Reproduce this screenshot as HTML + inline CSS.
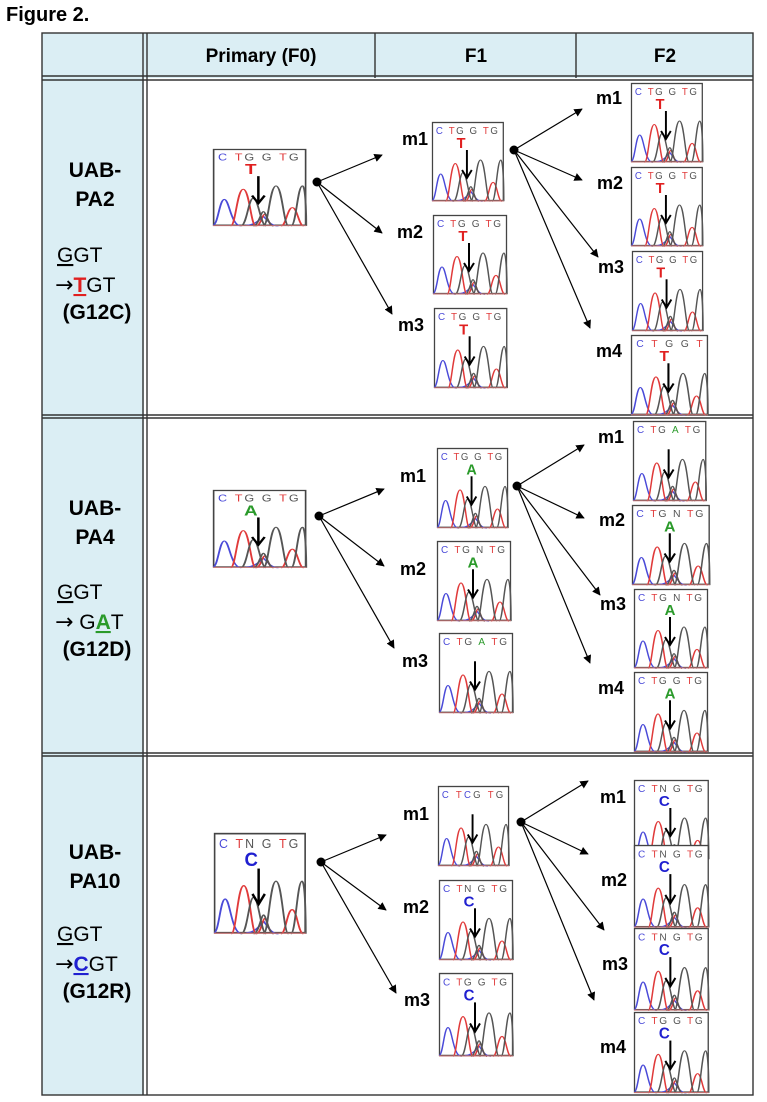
<!DOCTYPE html>
<html><head><meta charset="utf-8"><style>
html,body{margin:0;padding:0;background:#fff;}
svg{display:block;font-family:"Liberation Sans",Arial,sans-serif;}
.sq{font-size:10px;}
.mt{font-size:15px;font-weight:bold;text-anchor:middle;}
.ml{font-size:18px;font-weight:bold;}
.lt{font-size:21px;font-weight:bold;text-anchor:middle;}
.lr{font-size:21px;}
.ar{font-family:"DejaVu Sans",sans-serif;font-size:22px;}
.hd{font-size:19px;font-weight:bold;text-anchor:middle;}
</style></head><body>
<svg width="767" height="1102" viewBox="0 0 767 1102">
<defs>
<marker id="ah" viewBox="0 0 10 10" refX="9" refY="5" markerWidth="7" markerHeight="7" orient="auto-start-reverse"><path d="M0,0 L10,5 L0,10 z" fill="#000"/></marker>
<g id="pk" fill="none" stroke-width="1.5" transform="translate(0,24) scale(1,0.7)">
<path stroke="#4a4ad8" d="M0,78 C4,78 5,40 9,40 C13,40 14,78 22,79 M26,78 C32,78 36,72 40,65 C44,72 46,79 52,79"/>
<path stroke="#e03a3a" d="M14,79 C18,79 19,25 24,25 C29,25 30,79 34,79 M34,79 C38,79 39,62 41,62 C43,62 44,79 48,79 M54,79 C58,79 59,52 63,52 C67,52 68,79 72,79"/>
<path stroke="#555" d="M22,79 C27,79 28,38 32,38 C36,38 38,79 42,79 M32,79 C36,79 38,58 40,58 C42,58 44,79 48,79 M40,79 C44,79 45,20 50,20 C55,20 56,79 60,79 M62,79 C66,79 67,20 71,20 C74,20 74,79 74,79"/>
<path stroke="#c07070" d="M0,78.5 L74,78.5"/>
</g>
<g id="ch">
<rect x="0.5" y="0.5" width="73" height="78" fill="#fff" stroke="#444" stroke-width="1.3"/>
<use href="#pk"/>
<line x1="36" y1="28" x2="36" y2="55" stroke="#000" stroke-width="2"/>
<path d="M31,48 L36,56 L41,48" fill="none" stroke="#000" stroke-width="2"/>
</g>
</defs>

<text x="6" y="21" style="font-size:20px;font-weight:bold">Figure 2.</text>

<rect x="42" y="33" width="711" height="45" fill="#dbeef4"/>
<rect x="42" y="78" width="102" height="1017" fill="#dbeef4"/>
<g stroke="#333" stroke-width="1.4" fill="none">
<rect x="42" y="33" width="711" height="1062"/>
<line x1="143" y1="33" x2="143" y2="1095"/>
<line x1="147" y1="33" x2="147" y2="1095"/>
<line x1="42" y1="76" x2="753" y2="76"/>
<line x1="42" y1="80" x2="753" y2="80"/>
<line x1="375" y1="33" x2="375" y2="78"/>
<line x1="576" y1="33" x2="576" y2="78"/>
<line x1="42" y1="415" x2="753" y2="415"/>
<line x1="42" y1="418" x2="753" y2="418"/>
<line x1="42" y1="753" x2="753" y2="753"/>
<line x1="42" y1="756" x2="753" y2="756"/>
</g>
<text class="hd" x="261" y="62">Primary (F0)</text>
<text class="hd" x="476" y="62">F1</text>
<text class="hd" x="665" y="62">F2</text>

<text class="lt" x="95" y="177">UAB-</text>
<text class="lt" x="95" y="206">PA2</text>
<text class="lr" x="57" y="262"><tspan text-decoration="underline">G</tspan>GT</text>
<text class="lr" x="55" y="292"><tspan class="ar">→</tspan><tspan fill="#e02020" font-weight="bold" text-decoration="underline">T</tspan>GT</text>
<text class="lt" x="97" y="319">(G12C)</text>

<text class="lt" x="95" y="515">UAB-</text>
<text class="lt" x="95" y="544">PA4</text>
<text class="lr" x="57" y="599"><tspan text-decoration="underline">G</tspan>GT</text>
<text class="lr" x="55" y="629"><tspan class="ar">→</tspan> G<tspan fill="#2a9a2a" font-weight="bold" text-decoration="underline">A</tspan>T</text>
<text class="lt" x="97" y="656">(G12D)</text>

<text class="lt" x="95" y="859">UAB-</text>
<text class="lt" x="95" y="888">PA10</text>
<text class="lr" x="57" y="941"><tspan text-decoration="underline">G</tspan>GT</text>
<text class="lr" x="55" y="971"><tspan class="ar">→</tspan><tspan fill="#2020d0" font-weight="bold" text-decoration="underline">C</tspan>GT</text>
<text class="lt" x="97" y="998">(G12R)</text>

<g stroke="#000" stroke-width="1.2" marker-end="url(#ah)">
<line x1="317" y1="182" x2="382" y2="155"/>
<line x1="317" y1="182" x2="382" y2="233"/>
<line x1="317" y1="182" x2="392" y2="314"/>
<line x1="514" y1="150" x2="582" y2="109"/>
<line x1="514" y1="150" x2="582" y2="180"/>
<line x1="514" y1="150" x2="598" y2="257"/>
<line x1="514" y1="150" x2="590" y2="328"/>
<line x1="319" y1="516" x2="384" y2="489"/>
<line x1="319" y1="516" x2="384" y2="566"/>
<line x1="319" y1="516" x2="394" y2="648"/>
<line x1="517" y1="486" x2="584" y2="445"/>
<line x1="517" y1="486" x2="584" y2="518"/>
<line x1="517" y1="486" x2="600" y2="595"/>
<line x1="517" y1="486" x2="590" y2="663"/>
<line x1="321" y1="862" x2="386" y2="835"/>
<line x1="321" y1="862" x2="386" y2="910"/>
<line x1="321" y1="862" x2="396" y2="993"/>
<line x1="521" y1="822" x2="588" y2="781"/>
<line x1="521" y1="822" x2="588" y2="854"/>
<line x1="521" y1="822" x2="604" y2="930"/>
<line x1="521" y1="822" x2="594" y2="1000"/>
</g>
<g fill="#000">
<circle cx="317" cy="182" r="4.5"/><circle cx="514" cy="150" r="4.5"/>
<circle cx="319" cy="516" r="4.5"/><circle cx="517" cy="486" r="4.5"/>
<circle cx="321" cy="862" r="4.5"/><circle cx="521" cy="822" r="4.5"/>
</g>

<text class="ml" x="402" y="145">m1</text>
<text class="ml" x="397" y="238">m2</text>
<text class="ml" x="398" y="331">m3</text>
<text class="ml" x="596" y="104">m1</text>
<text class="ml" x="597" y="189">m2</text>
<text class="ml" x="598" y="273">m3</text>
<text class="ml" x="596" y="357">m4</text>
<text class="ml" x="400" y="482">m1</text>
<text class="ml" x="400" y="575">m2</text>
<text class="ml" x="402" y="667">m3</text>
<text class="ml" x="598" y="443">m1</text>
<text class="ml" x="599" y="526">m2</text>
<text class="ml" x="600" y="610">m3</text>
<text class="ml" x="598" y="694">m4</text>
<text class="ml" x="403" y="820">m1</text>
<text class="ml" x="403" y="913">m2</text>
<text class="ml" x="404" y="1006">m3</text>
<text class="ml" x="600" y="803">m1</text>
<text class="ml" x="601" y="886">m2</text>
<text class="ml" x="602" y="970">m3</text>
<text class="ml" x="600" y="1053">m4</text>

<!-- Row 1 -->
<g transform="translate(213,149) scale(1.26,0.97)"><use href="#ch"/><text class="sq" x="4" y="12" textLength="64" lengthAdjust="spacing"><tspan fill="#4a4ad8">C</tspan> <tspan fill="#e03a3a">T</tspan><tspan fill="#555">G G</tspan> <tspan fill="#e03a3a">T</tspan><tspan fill="#555">G</tspan></text><text class="mt" x="30" y="26" fill="#e02020">T</text></g>
<g transform="translate(432,122) scale(0.97,1)"><use href="#ch"/><text class="sq" x="4" y="12" textLength="64" lengthAdjust="spacing"><tspan fill="#4a4ad8">C</tspan> <tspan fill="#e03a3a">T</tspan><tspan fill="#555">G G</tspan> <tspan fill="#e03a3a">T</tspan><tspan fill="#555">G</tspan></text><text class="mt" x="30" y="26" fill="#e02020">T</text></g>
<g transform="translate(433,215)"><use href="#ch"/><text class="sq" x="4" y="12" textLength="64" lengthAdjust="spacing"><tspan fill="#4a4ad8">C</tspan> <tspan fill="#e03a3a">T</tspan><tspan fill="#555">G G</tspan> <tspan fill="#e03a3a">T</tspan><tspan fill="#555">G</tspan></text><text class="mt" x="30" y="26" fill="#e02020">T</text></g>
<g transform="translate(434,308) scale(0.99,1.01)"><use href="#ch"/><text class="sq" x="4" y="12" textLength="64" lengthAdjust="spacing"><tspan fill="#4a4ad8">C</tspan> <tspan fill="#e03a3a">T</tspan><tspan fill="#555">G G</tspan> <tspan fill="#e03a3a">T</tspan><tspan fill="#555">G</tspan></text><text class="mt" x="30" y="26" fill="#e02020">T</text></g>
<g transform="translate(631,83) scale(0.97,1)"><use href="#ch"/><text class="sq" x="4" y="12" textLength="64" lengthAdjust="spacing"><tspan fill="#4a4ad8">C</tspan> <tspan fill="#e03a3a">T</tspan><tspan fill="#555">G G</tspan> <tspan fill="#e03a3a">T</tspan><tspan fill="#555">G</tspan></text><text class="mt" x="30" y="26" fill="#e02020">T</text></g>
<g transform="translate(631,167) scale(0.97,1)"><use href="#ch"/><text class="sq" x="4" y="12" textLength="64" lengthAdjust="spacing"><tspan fill="#4a4ad8">C</tspan> <tspan fill="#e03a3a">T</tspan><tspan fill="#555">G G</tspan> <tspan fill="#e03a3a">T</tspan><tspan fill="#555">G</tspan></text><text class="mt" x="30" y="26" fill="#e02020">T</text></g>
<g transform="translate(632,251) scale(0.96,1.01)"><use href="#ch"/><text class="sq" x="4" y="12" textLength="64" lengthAdjust="spacing"><tspan fill="#4a4ad8">C</tspan> <tspan fill="#e03a3a">T</tspan><tspan fill="#555">G G</tspan> <tspan fill="#e03a3a">T</tspan><tspan fill="#555">G</tspan></text><text class="mt" x="30" y="26" fill="#e02020">T</text></g>
<g transform="translate(631,335) scale(1.04,1.01)"><use href="#ch"/><text class="sq" x="5" y="12" textLength="64" lengthAdjust="spacing"><tspan fill="#4a4ad8">C</tspan>  <tspan fill="#e03a3a">T</tspan> <tspan fill="#555">G</tspan> <tspan fill="#555">G</tspan>  <tspan fill="#e03a3a">T</tspan></text><text class="mt" x="32" y="26" fill="#e02020">T</text></g>

<!-- Row 2 -->
<g transform="translate(213,490) scale(1.26,0.98)"><use href="#ch"/><text class="sq" x="4" y="12" textLength="64" lengthAdjust="spacing"><tspan fill="#4a4ad8">C</tspan> <tspan fill="#e03a3a">T</tspan><tspan fill="#555">G G</tspan> <tspan fill="#e03a3a">T</tspan><tspan fill="#555">G</tspan></text><text class="mt" x="30" y="26" fill="#2a9a2a">A</text></g>
<g transform="translate(437,448) scale(0.96,1.01)"><use href="#ch"/><text class="sq" x="4" y="12" textLength="64" lengthAdjust="spacing"><tspan fill="#4a4ad8">C</tspan> <tspan fill="#e03a3a">T</tspan><tspan fill="#555">G G</tspan> <tspan fill="#e03a3a">T</tspan><tspan fill="#555">G</tspan></text><text class="mt" x="36" y="26" fill="#2a9a2a">A</text></g>
<g transform="translate(437,541) scale(1,1.01)"><use href="#ch"/><text class="sq" x="4" y="12" textLength="64" lengthAdjust="spacing"><tspan fill="#4a4ad8">C</tspan> <tspan fill="#e03a3a">T</tspan><tspan fill="#555">G N</tspan> <tspan fill="#e03a3a">T</tspan><tspan fill="#555">G</tspan></text><text class="mt" x="36" y="26" fill="#2a9a2a">A</text></g>
<g transform="translate(439,633) scale(1,1.01)"><use href="#ch"/><text class="sq" x="4" y="12" textLength="64" lengthAdjust="spacing"><tspan fill="#4a4ad8">C</tspan> <tspan fill="#e03a3a">T</tspan><tspan fill="#555">G</tspan> <tspan fill="#2a9a2a">A</tspan> <tspan fill="#e03a3a">T</tspan><tspan fill="#555">G</tspan></text></g>
<g transform="translate(633,421) scale(0.99,1.01)"><use href="#ch"/><text class="sq" x="4" y="12" textLength="64" lengthAdjust="spacing"><tspan fill="#4a4ad8">C</tspan> <tspan fill="#e03a3a">T</tspan><tspan fill="#555">G</tspan> <tspan fill="#2a9a2a">A</tspan> <tspan fill="#e03a3a">T</tspan><tspan fill="#555">G</tspan></text></g>
<g transform="translate(632,505) scale(1.05,1.01)"><use href="#ch"/><text class="sq" x="4" y="12" textLength="64" lengthAdjust="spacing"><tspan fill="#4a4ad8">C</tspan> <tspan fill="#e03a3a">T</tspan><tspan fill="#555">G N</tspan> <tspan fill="#e03a3a">T</tspan><tspan fill="#555">G</tspan></text><text class="mt" x="36" y="26" fill="#2a9a2a">A</text></g>
<g transform="translate(634,589)"><use href="#ch"/><text class="sq" x="4" y="12" textLength="64" lengthAdjust="spacing"><tspan fill="#4a4ad8">C</tspan> <tspan fill="#e03a3a">T</tspan><tspan fill="#555">G N</tspan> <tspan fill="#e03a3a">T</tspan><tspan fill="#555">G</tspan></text><text class="mt" x="36" y="26" fill="#2a9a2a">A</text></g>
<g transform="translate(634,672) scale(1,1.01)"><use href="#ch"/><text class="sq" x="4" y="12" textLength="64" lengthAdjust="spacing"><tspan fill="#4a4ad8">C</tspan> <tspan fill="#e03a3a">T</tspan><tspan fill="#555">G G</tspan> <tspan fill="#e03a3a">T</tspan><tspan fill="#555">G</tspan></text><text class="mt" x="36" y="26" fill="#2a9a2a">A</text></g>

<!-- Row 3 -->
<g transform="translate(214,833) scale(1.24,1.27)"><use href="#ch"/><text class="sq" x="4" y="12" textLength="64" lengthAdjust="spacing"><tspan fill="#4a4ad8">C</tspan> <tspan fill="#e03a3a">T</tspan><tspan fill="#555">N G</tspan> <tspan fill="#e03a3a">T</tspan><tspan fill="#555">G</tspan></text><text class="mt" x="30" y="26" fill="#2020d0">C</text></g>
<g transform="translate(438,786) scale(0.96,1.01)"><use href="#ch"/><text class="sq" x="4" y="12" textLength="64" lengthAdjust="spacing"><tspan fill="#4a4ad8">C</tspan> <tspan fill="#e03a3a">T</tspan><tspan fill="#4a4ad8">C</tspan><tspan fill="#555">G</tspan> <tspan fill="#e03a3a">T</tspan><tspan fill="#555">G</tspan></text></g>
<g transform="translate(439,880) scale(1,1.01)"><use href="#ch"/><text class="sq" x="4" y="12" textLength="64" lengthAdjust="spacing"><tspan fill="#4a4ad8">C</tspan> <tspan fill="#e03a3a">T</tspan><tspan fill="#555">N G</tspan> <tspan fill="#e03a3a">T</tspan><tspan fill="#555">G</tspan></text><text class="mt" x="30" y="26" fill="#2020d0">C</text></g>
<g transform="translate(439,973) scale(1,1.05)"><use href="#ch"/><text class="sq" x="4" y="12" textLength="64" lengthAdjust="spacing"><tspan fill="#4a4ad8">C</tspan> <tspan fill="#e03a3a">T</tspan><tspan fill="#555">G G</tspan> <tspan fill="#e03a3a">T</tspan><tspan fill="#555">G</tspan></text><text class="mt" x="30" y="26" fill="#2020d0">C</text></g>
<g transform="translate(634,780) scale(1.01,1)"><use href="#ch"/><text class="sq" x="4" y="12" textLength="64" lengthAdjust="spacing"><tspan fill="#4a4ad8">C</tspan> <tspan fill="#e03a3a">T</tspan><tspan fill="#555">N G</tspan> <tspan fill="#e03a3a">T</tspan><tspan fill="#555">G</tspan></text><text class="mt" x="30" y="26" fill="#2020d0">C</text></g>
<g transform="translate(634,845) scale(1.01,1.04)"><use href="#ch"/><text class="sq" x="4" y="12" textLength="64" lengthAdjust="spacing"><tspan fill="#4a4ad8">C</tspan> <tspan fill="#e03a3a">T</tspan><tspan fill="#555">N G</tspan> <tspan fill="#e03a3a">T</tspan><tspan fill="#555">G</tspan></text><text class="mt" x="30" y="26" fill="#2020d0">C</text></g>
<g transform="translate(634,928) scale(1.01,1.04)"><use href="#ch"/><text class="sq" x="4" y="12" textLength="64" lengthAdjust="spacing"><tspan fill="#4a4ad8">C</tspan> <tspan fill="#e03a3a">T</tspan><tspan fill="#555">N G</tspan> <tspan fill="#e03a3a">T</tspan><tspan fill="#555">G</tspan></text><text class="mt" x="30" y="26" fill="#2020d0">C</text></g>
<g transform="translate(634,1012) scale(1.01,1.02)"><use href="#ch"/><text class="sq" x="4" y="12" textLength="64" lengthAdjust="spacing"><tspan fill="#4a4ad8">C</tspan> <tspan fill="#e03a3a">T</tspan><tspan fill="#555">G G</tspan> <tspan fill="#e03a3a">T</tspan><tspan fill="#555">G</tspan></text><text class="mt" x="30" y="26" fill="#2020d0">C</text></g>
</svg>
</body></html>
